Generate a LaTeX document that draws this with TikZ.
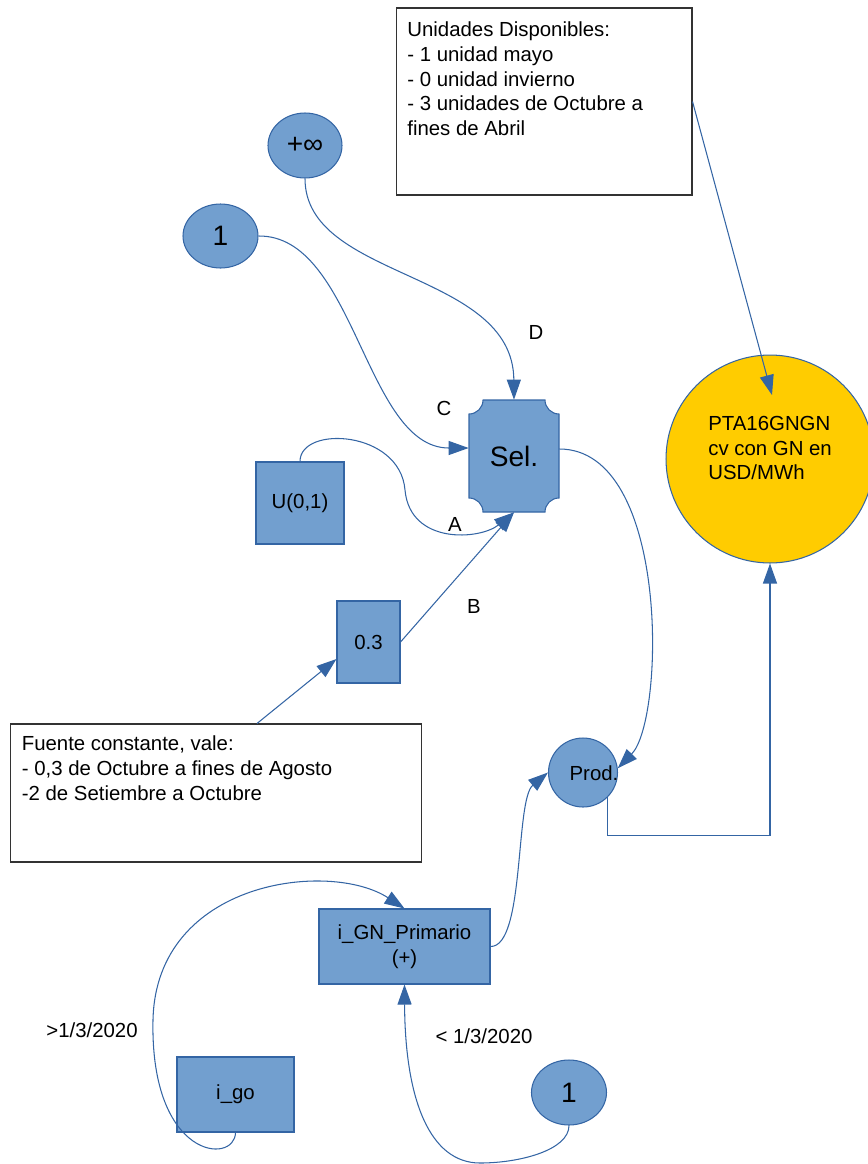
\documentclass[tikz,border=0pt]{standalone}
\usepackage{fontspec}
\setmainfont{Liberation Sans}
\usetikzlibrary{arrows.meta,shapes.geometric}
\definecolor{boxblue}{HTML}{729FCF}
\definecolor{edgeblue}{HTML}{3465A4}
\definecolor{sunyellow}{HTML}{FFCC00}
\newcommand{\bigtext}{\fontsize{16}{19}\selectfont}

\begin{document}
\begin{tikzpicture}[x=0.02cm,y=-0.02cm,
	every node/.style={font=\fontsize{11.6}{14.2}\selectfont},
	blk/.style={rectangle,draw=edgeblue,fill=boxblue,line width=0.6pt,inner sep=0pt,align=center},
	bubble/.style={ellipse,draw=edgeblue,fill=boxblue,line width=0.6pt,inner sep=0pt,font=\bigtext},
	note/.style={rectangle,draw=black!80,fill=white,line width=0.6pt,inner sep=0pt},
	notetext/.style={anchor=north west,align=left,inner sep=0pt},
	flow/.style={draw=edgeblue,line width=0.6pt,-{Triangle[length=0.4cm,width=0.28cm]}}]
	\useasboundingbox (0,0) rectangle (867,1164);
	%
	\node[note,minimum width=5.92cm,minimum height=3.74cm] (units) at (544,101.5) {};
	\node[notetext] (unitstxt) at ([xshift=0.23cm,yshift=-0.27cm]units.north west) {Unidades Disponibles:\\- 1 unidad mayo\\- 0 unidad invierno\\- 3 unidades de Octubre a\\fines de Abril};
	\node[note,minimum width=8.24cm,minimum height=2.76cm] (fuente) at (216,793) {};
	\node[notetext] (fuentetxt) at ([xshift=0.24cm,yshift=-0.24cm]fuente.north west) {Fuente constante, vale:\\- 0,3 de Octubre a fines de Agosto\\-2 de Setiembre a Octubre};
	%
	\node[bubble,minimum width=1.48cm,minimum height=1.3cm] (inf) at (305,145.5) {+∞};
	\node[bubble,minimum width=1.5cm,minimum height=1.28cm] (one) at (220.5,236) {1};
	\node[blk,minimum width=1.76cm,minimum height=1.64cm] (unif) at (300,503) {U(0,1)};
	\node[blk,minimum width=1.26cm,minimum height=1.64cm] (cst) at (368.5,642) {0.3};
	%
	\draw[draw=edgeblue,fill=boxblue,line width=0.6pt] (483,400) -- (545,400)
		arc[start angle=180,end angle=270,radius=0.28cm] -- (559,498)
		arc[start angle=90,end angle=180,radius=0.28cm] -- (483,512)
		arc[start angle=0,end angle=90,radius=0.28cm] -- (469,414)
		arc[start angle=270,end angle=360,radius=0.28cm] -- cycle;
	\node[font=\bigtext,inner sep=0pt,minimum width=1.8cm,minimum height=2.24cm] (sel) at (514,456) {Sel.};
	%
	\node[bubble,circle,minimum size=1.38cm] (prod) at (583,772.5) {};
	\node[inner sep=0pt] (prodtxt) at (594,773) {Prod.};
	\node[circle,draw=edgeblue,fill=sunyellow,line width=0.6pt,minimum size=4.16cm,inner sep=0pt] (pta) at (770,459) {};
	\node[notetext] (ptatxt) at (708,415.5) {PTA16GNGN\\cv con GN en\\USD/MWh};
	%
	\node[blk,minimum width=3.42cm,minimum height=1.5cm] (ign) at (404.5,946.5) {i\_GN\_Primario\\(+)};
	\node[blk,minimum width=2.34cm,minimum height=1.5cm] (igo) at (235.5,1094.5) {i\_go};
	\node[bubble,minimum width=1.5cm,minimum height=1.3cm] (one2) at (569,1092.5) {1};
	%
	\node (lblA) at (455,524) {A};
	\node (lblB) at (474,606) {B};
	\node (lblC) at (444,408) {C};
	\node (lblD) at (536,332) {D};
	\node (lblafter) at (92,1030) {>1/3/2020};
	\node (lblbefore) at (484,1036) {< 1/3/2020};
	%
	\draw[flow] (one.east) .. controls (355,235) and (365,448) .. ([yshift=0.16cm]sel.west);
	\draw[flow] (inf.south) .. controls (305,280) and (513,270) .. (sel.north);
	\draw[flow] (unif.north) .. controls (300,425) and (400,430) .. (405,490) .. controls (410,545) and (480,540) .. (sel.south);
	\draw[flow] (cst.east) -- (sel.south);
	\draw[flow] ([xshift=0.82cm]fuente.north) -- ([yshift=-0.34cm]cst.west);
	\draw[flow] (units.east) -- ([xshift=0.04cm,yshift=1.28cm]pta.center);
	\draw[flow] ([yshift=0.14cm]sel.east) .. controls (670,449) and (665,720) .. (prod.7);
	\draw[flow] (ign.east) .. controls (525,947) and (515,800) .. (prod.west);
	\draw[flow] (prod.-45) -- ++(0,38) -| (pta.south);
	\draw[flow] (igo.south) .. controls (235,1165) and (150,1160) .. (153,1020) .. controls (156,880) and (330,860) .. (ign.north);
	\draw[flow] (one2.south) .. controls (569,1150) and (520,1163) .. (480,1163) .. controls (430,1163) and (405,1100) .. (ign.south);
\end{tikzpicture}
\end{document}
